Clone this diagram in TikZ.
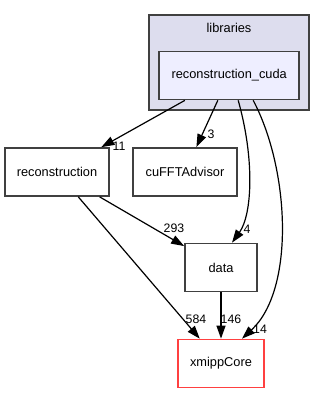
\documentclass[tikz,border=0pt]{standalone}
\usepackage{fontspec}
\setmainfont{Liberation Sans}
\usetikzlibrary{arrows.meta}
\definecolor{clusterfill}{HTML}{DDDDEE}
\definecolor{dirfill}{HTML}{EEEEFF}
\definecolor{edgegray}{HTML}{404040}
\definecolor{corered}{HTML}{FF4040}
\begin{document}
\begin{tikzpicture}[x=1pt,y=-1pt,
    every node/.style={font=\fontsize{12.8}{15}\selectfont},
    dirbox/.style={draw=edgegray,line width=1.7pt,minimum height=48pt,inner sep=0pt},
    dep/.style={-{Triangle[length=13pt,width=9pt]},line width=1.2pt},
    count/.style={inner sep=0pt,font=\fontsize{12.3}{14}\selectfont}]
    \useasboundingbox (0,0) rectangle (325,393);

    % Draw the libraries cluster
    \node [draw=edgegray,fill=clusterfill,line width=1.7pt,minimum width=160pt,minimum height=95pt] (libs) at (229,62.5) {};
    \node (libslabel) at (229,27.5) {libraries};
    \node [dirbox,fill=dirfill,minimum width=140pt] (rc) at (229.2,75.5) {reconstruction\_cuda};

    % Draw the other directories
    \node [dirbox,minimum width=104pt] (recon) at (57,172) {reconstruction};
    \node [dirbox,minimum width=104pt] (cufft) at (185,172) {cuFFTAdvisor};
    \node [dirbox,minimum width=72pt] (data) at (221,267.5) {data};
    \node [dirbox,draw=corered,minimum width=85.4pt] (core) at (221,363.5) {xmippCore};

    % Draw the dependencies
    \draw [dep] (rc) -- (recon);
    \draw [dep] (rc) -- (cufft);
    \draw [dep] ([xshift=9pt]rc.south) .. controls (255,160) and (252,215) .. ([xshift=11pt]data.north);
    \draw [dep] ([xshift=24pt]rc.south) .. controls (290,170) and (295,290) .. ([xshift=21pt]core.north);
    \draw [dep] (recon) -- (data);
    \draw [dep] (recon) -- (core);
    \draw [dep] (data.south) -- (core.north);

    % Draw the counts
    \node [count] (n11) at (119,146) {11};
    \node [count] (n3) at (211,134) {3};
    \node [count] (n4) at (247,229) {4};
    \node [count] (n293) at (174,228.5) {293};
    \node [count] (n584) at (196,319.5) {584};
    \node [count] (n146) at (231,319.5) {146};
    \node [count] (n14) at (260,329.5) {14};
\end{tikzpicture}
\end{document}
